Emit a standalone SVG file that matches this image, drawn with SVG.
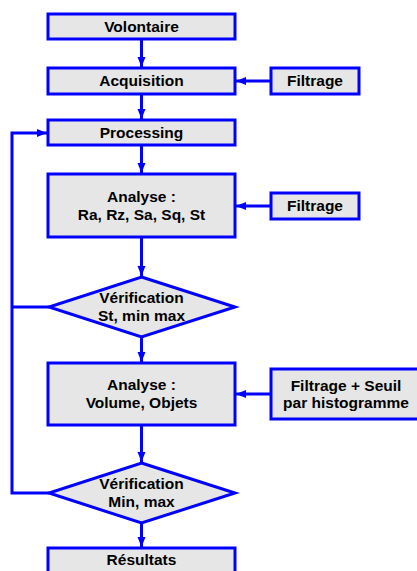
<svg xmlns="http://www.w3.org/2000/svg" width="417" height="571" viewBox="0 0 417 571">
<style>
.n{fill:#e6e6e6;stroke:#0000ff;stroke-width:3}
.t{font-family:"Liberation Sans",Arial,sans-serif;font-weight:bold;font-size:15.5px;fill:#000;text-anchor:middle}
.c{fill:none;stroke:#0000ff;stroke-width:3}
</style>
<defs>
<marker id="a" markerUnits="userSpaceOnUse" markerWidth="10" markerHeight="10" viewBox="0 0 10 10" refX="10" refY="5" orient="auto">
<path d="M0,1 L10,5 L0,9 Z" fill="#0000ff"/>
</marker>
</defs>
<rect width="417" height="571" fill="#fff"/>
<g id="connectors">
<path class="c" d="M141.5,39 V67" marker-end="url(#a)"/>
<path class="c" d="M141.5,94 V119" marker-end="url(#a)"/>
<path class="c" d="M271,81 H236" marker-end="url(#a)"/>
<path class="c" d="M141.5,145 V173" marker-end="url(#a)"/>
<path class="c" d="M271,206 H236" marker-end="url(#a)"/>
<path class="c" d="M141.5,237 V276" marker-end="url(#a)"/>
<path class="c" d="M141.5,337 V362" marker-end="url(#a)"/>
<path class="c" d="M271,394 H236" marker-end="url(#a)"/>
<path class="c" d="M141.5,425 V462" marker-end="url(#a)"/>
<path class="c" d="M141.5,523 V547" marker-end="url(#a)"/>
<path class="c" d="M49,307 H12"/>
<path class="c" d="M49,493 H12 V133 H47" marker-end="url(#a)"/>
</g>
<g id="volontaire"><rect class="n" x="48" y="14" width="187" height="25"/><text class="t" x="141.5" y="32">Volontaire</text></g>
<g id="acquisition"><rect class="n" x="48" y="68" width="187" height="26"/><text class="t" x="141.5" y="86">Acquisition</text></g>
<g id="filtrage1"><rect class="n" x="271" y="68" width="88" height="26"/><text class="t" x="315" y="86">Filtrage</text></g>
<g id="processing"><rect class="n" x="48" y="120" width="187" height="25"/><text class="t" x="141.5" y="138">Processing</text></g>
<g id="analyse1"><rect class="n" x="48" y="174" width="187" height="63"/><text class="t" x="141.5" y="202">Analyse :</text><text class="t" x="141.5" y="220">Ra, Rz, Sa, Sq, St</text></g>
<g id="filtrage2"><rect class="n" x="271" y="193" width="88" height="26"/><text class="t" x="315" y="211">Filtrage</text></g>
<g id="verif1"><polygon class="n" points="141.5,277 235,307 141.5,337 49,307"/><text class="t" x="141.5" y="303">Vérification</text><text class="t" x="141.5" y="321">St, min max</text></g>
<g id="analyse2"><rect class="n" x="48" y="363" width="187" height="62"/><text class="t" x="141.5" y="390">Analyse :</text><text class="t" x="141.5" y="408">Volume, Objets</text></g>
<g id="filtrage3"><rect class="n" x="271" y="369" width="150" height="50"/><text class="t" x="346" y="391">Filtrage + Seuil</text><text class="t" x="346" y="408">par histogramme</text></g>
<g id="verif2"><polygon class="n" points="141.5,463 235,493 141.5,523 49,493"/><text class="t" x="141.5" y="489">Vérification</text><text class="t" x="141.5" y="507">Min, max</text></g>
<g id="resultats"><rect class="n" x="48" y="548" width="187" height="30"/><text class="t" x="141.5" y="565">Résultats</text></g>
</svg>
